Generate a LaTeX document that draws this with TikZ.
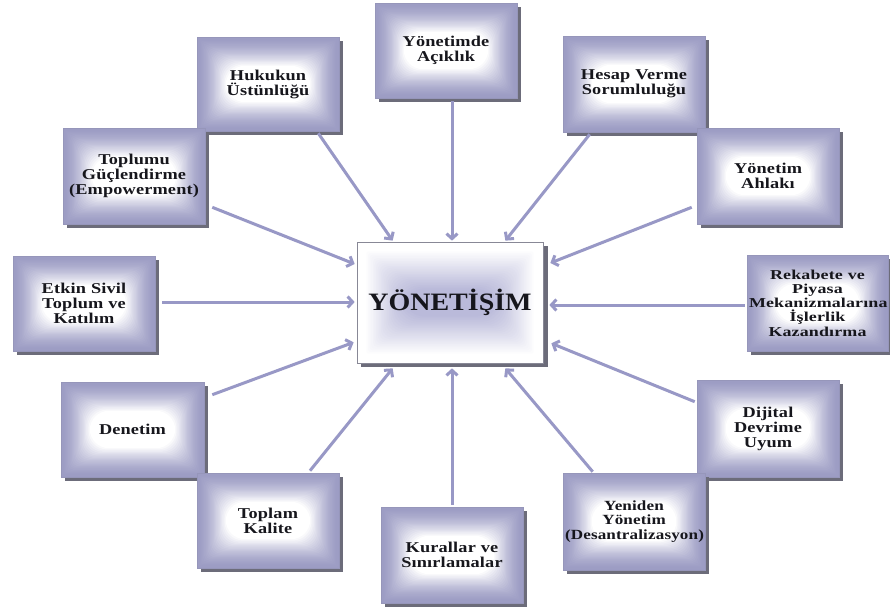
\documentclass[tikz,border=0pt]{standalone}
\usepackage{fontspec}
\setmainfont{Liberation Serif}
\newfontfamily\boxfont[FakeStretch=1.22,LetterSpace=1]{Liberation Serif}
\newfontfamily\rekfont[FakeStretch=1.32,LetterSpace=1]{Liberation Serif}
\newfontfamily\cenfont[FakeStretch=1.12]{Liberation Serif}
\usetikzlibrary{arrows.meta,calc}

\definecolor{edgec}{RGB}{156,156,196}
\definecolor{shadc}{RGB}{108,108,122}
\definecolor{arrc}{RGB}{152,152,198}
\definecolor{bordc}{RGB}{150,150,186}
\definecolor{txtc}{RGB}{22,22,28}
\definecolor{cenlav}{RGB}{186,186,218}
\definecolor{cenbord}{RGB}{136,136,150}

\tikzset{
  boxn/.style={draw=bordc, line width=0.6pt, align=center, inner sep=0pt,
    text=txtc, font=\boxfont\bfseries\fontsize{15}{15}\selectfont},
  cenn/.style={draw=cenbord, line width=0.7pt, align=center, inner sep=0pt,
    text=txtc, font=\cenfont\bfseries\fontsize{25}{25}\selectfont},
  arr/.style={draw=arrc, line width=3pt, -{Straight Barb[length=5pt,width=11pt]}},
}

\newcommand\gbox[6]{%
  \fill[shadc] ({#2-#4/2+4},{#3-#5/2+4}) rectangle ({#2+#4/2+4},{#3+#5/2+4});
  \foreach \i in {0,...,24}{%
    \pgfmathsetmacro\pc{100*(1-(\i/24)^1.6)}%
    \pgfmathsetmacro\dd{\i*1.2}%
    \pgfmathsetmacro\rc{\i*0.8}%
    \fill[edgec!\pc!white, rounded corners=\rc pt] ({#2-#4/2+\dd},{#3-#5/2+\dd}) rectangle ({#2+#4/2-\dd},{#3+#5/2-\dd});
  }%
  \node[boxn, minimum width=#4, minimum height=#5, text width={#4-4}] (#1) at (#2,#3) {#6};
}

\begin{document}
\begin{tikzpicture}[x=1pt,y=-1pt]
\useasboundingbox (0,0) rectangle (890,612);
\fill[white] (0,0) rectangle (890,612);

\gbox{yon}{446}{50.5}{142}{95}{Yönetimde\\Açıklık}
\gbox{huk}{268}{84}{142}{94}{Hukukun\\Üstünlüğü}
\gbox{hes}{634}{84}{142}{96}{Hesap Verme\\Sorumluluğu}
\gbox{top}{134}{176}{142}{96}{Toplumu\\Güçlendirme\\(Empowerment)}
\gbox{ahl}{768}{176}{142}{96}{Yönetim\\Ahlakı}
\gbox{etk}{84}{303.5}{142}{95}{Etkin Sivil\\Toplum ve\\Katılım}
\gbox{rek}{817.5}{303}{141}{96}{\rekfont\fontsize{13.6}{14}\selectfont Rekabete ve\\Piyasa\\Mekanizmalarına\\İşlerlik\\Kazandırma}
\gbox{den}{132.5}{429.5}{143}{95}{Denetim}
\gbox{dij}{768}{428.5}{142}{97}{Dijital\\Devrime\\Uyum}
\gbox{tpk}{268}{520.5}{142}{95}{Toplam\\Kalite}
\gbox{kur}{452}{555}{142}{96}{Kurallar ve\\Sınırlamalar}
\gbox{yen}{634}{521.5}{142}{97}{\fontsize{14}{14}\selectfont Yeniden\\Yönetim\\(Desantralizasyon)}

% central box
\fill[shadc] (361,246) rectangle (548,367);
\fill[white] (357,242) rectangle (543,363);
\foreach \i in {0,...,24}{%
  \pgfmathsetmacro\pc{100*\i/24}%
  \pgfmathsetmacro\dd{8+\i*1.6}%
  \pgfmathsetmacro\rc{\i*0.9}%
  \fill[cenlav!\pc!white, rounded corners=\rc pt] ({357+\dd},{242+\dd}) rectangle ({543-\dd},{363-\dd});
}
\node[cenn, minimum width=186, minimum height=121] (cen) at (450,302.5) {YÖNETİŞİM};

% arrows
\draw[arr] ($(yon.south)+(6,3)$) -- ($(cen.north)+(2,-1)$);
\draw[arr] ($(huk.south east)+(-21,2)$) -- ($(cen.north west)+(36,-1)$);
\draw[arr] ($(hes.south west)+(27,2)$) -- ($(cen.north east)+(-38,-1)$);
\draw[arr] ($(top.south east)+(7,-17)$) -- ($(cen.west)+(-2,-38.5)$);
\draw[arr] ($(ahl.south west)+(-5,-17)$) -- ($(cen.east)+(7,-39.5)$);
\draw[arr] ($(etk.east)+(7,-1.5)$) -- ($(cen.west)+(-2,-0.5)$);
\draw[arr] ($(rek.west)+(-2,2)$) -- ($(cen.east)+(6,2.5)$);
\draw[arr] ($(den.north east)+(8,13)$) -- ($(cen.south west)+(-3,-21)$);
\draw[arr] ($(dij.north west)+(-2,22)$) -- ($(cen.south east)+(8,-20)$);
\draw[arr] ($(tpk.north)+(42,-2)$) -- ($(cen.south west)+(36,5)$);
\draw[arr] ($(kur.north)+(0,-2)$) -- ($(cen.south)+(2,5)$);
\draw[arr] ($(yen.north west)+(30,-1)$) -- ($(cen.south east)+(-38,5)$);
\end{tikzpicture}
\end{document}
